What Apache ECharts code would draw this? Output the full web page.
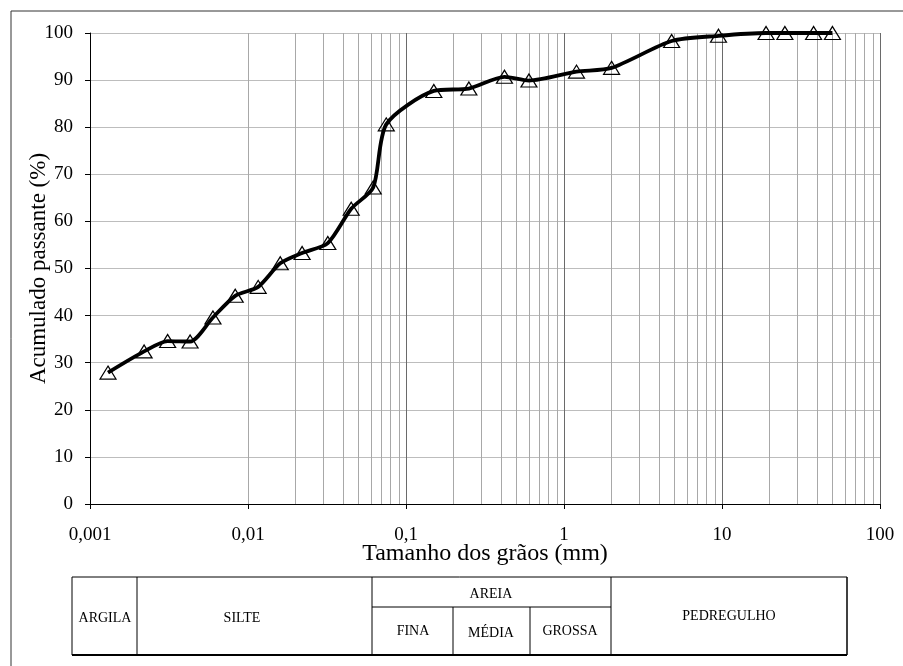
<!DOCTYPE html>
<html>
<head>
<meta charset="utf-8">
<script src="https://cdn.jsdelivr.net/npm/echarts@6/dist/echarts.min.js"></script>
<style>
html,body{margin:0;padding:0;background:#fff;}
#chart{width:903px;height:666px;}
</style>
</head>
<body>
<div id="chart"></div>
<script>
// ---- data ----
var grainSizes = [0.0013,0.0022,0.0031,0.0043,0.006,0.0083,0.0116,0.016,0.022,0.032,0.045,0.062,0.075,0.15,0.25,0.42,0.6,1.2,2.0,4.8,9.5,19,25,38,50];
var passing    = [27.9,32.4,34.6,34.5,39.6,44.2,46.1,51.1,53.3,55.4,62.7,67.2,80.6,87.7,88.2,90.7,89.9,91.8,92.6,98.3,99.4,100,100,100,100];
var xTickLabels = ['0,001','0,01','0,1','1','10','100'];
var decades = [0.001,0.01,0.1,1,10];
var minorMultipliers = [2,3,4,5,6,7,8,9];
var tableTop = ['ARGILA','SILTE','AREIA','PEDREGULHO'];
var tableSub = ['FINA','MÉDIA','GROSSA'];

var FONT = '"Liberation Serif","Times New Roman",serif';

var points = grainSizes.map(function(d,i){return [d, passing[i]];});
var minorLines = [];
decades.forEach(function(dec){
  minorMultipliers.forEach(function(m){ minorLines.push({xAxis: +(dec*m).toPrecision(6)}); });
});

var chart = echarts.init(document.getElementById('chart'), null, {renderer:'canvas'});

function txt(x,y,s){
  return {type:'text', x:x, y:y, style:{text:s, font:'14px '+FONT, fill:'#000', align:'center', verticalAlign:'middle'}, silent:true};
}
function ln(x1,y1,x2,y2,w,c){
  return {type:'line', shape:{x1:x1,y1:y1,x2:x2,y2:y2}, style:{stroke:c||'#000', lineWidth:w||1}, silent:true};
}

var graphics = [
  ln(11,11,903,11,1,'#333'),
  ln(11,11,11,666,1,'#333'),
  // table
  ln(72,577,847,577,1),
  ln(72,577,72,655,1),
  ln(847,577,847,655,1.5),
  ln(72,655,847,655,2),
  ln(137,577,137,655,1),
  ln(372,577,372,655,1),
  ln(611,577,611,655,1),
  ln(372,607,611,607,1),
  ln(453,607,453,655,1),
  ln(530,607,530,655,1),
  txt(105,618,tableTop[0]),
  txt(242,618,tableTop[1]),
  txt(491,594,tableTop[2]),
  txt(729,616,tableTop[3]),
  txt(413,631,tableSub[0]),
  txt(491,633,tableSub[1]),
  txt(570,631,tableSub[2])
];

chart.setOption({
  animation:false,
  backgroundColor:'#fff',
  grid:{left:90,right:23,top:33,bottom:162,containLabel:false},
  xAxis:{
    type:'log', logBase:10, min:0.001, max:100,
    name:'Tamanho dos grãos (mm)', nameLocation:'middle', nameGap:38, nameMoveOverlap:false,
    nameTextStyle:{fontFamily:FONT,fontSize:24,color:'#000'},
    axisLine:{show:true,onZero:false,lineStyle:{color:'#000',width:1}},
    axisTick:{show:true,inside:false,length:5,lineStyle:{color:'#000'}},
    axisLabel:{fontFamily:FONT,fontSize:19,color:'#000',margin:22,
      formatter:function(v){var k=Math.round(Math.log10(v))+3;return xTickLabels[k]!==undefined?xTickLabels[k]:'';}},
    splitLine:{show:true,lineStyle:{color:'#6a6a6a',width:1}}
  },
  yAxis:{
    type:'value', min:0, max:100, interval:10,
    name:'Acumulado passante (%)', nameLocation:'middle', nameGap:40, nameRotate:90, nameMoveOverlap:false,
    nameTextStyle:{fontFamily:FONT,fontSize:23,color:'#000'},
    axisLine:{show:true,lineStyle:{color:'#000',width:1}},
    axisTick:{show:true,inside:false,length:5,lineStyle:{color:'#000'}},
    axisLabel:{fontFamily:FONT,fontSize:19,color:'#000',margin:17},
    splitLine:{show:true,lineStyle:{color:'#bdbdbd',width:1}}
  },
  series:[
    {
      type:'line', data:[], silent:true, z:1,
      markLine:{silent:true, symbol:['none','none'], label:{show:false},
        lineStyle:{color:'#a8a8a8',width:1,type:'solid'}, animation:false,
        data:minorLines}
    },
    {
      type:'line', data:points, smooth:0.25, z:5,
      lineStyle:{color:'#000',width:3.8},
      symbol:'triangle', symbolSize:[16,13],
      itemStyle:{color:'rgba(255,255,255,0)',borderColor:'#000',borderWidth:1.2}
    }
  ],
  graphic:graphics
});
</script>
</body>
</html>
